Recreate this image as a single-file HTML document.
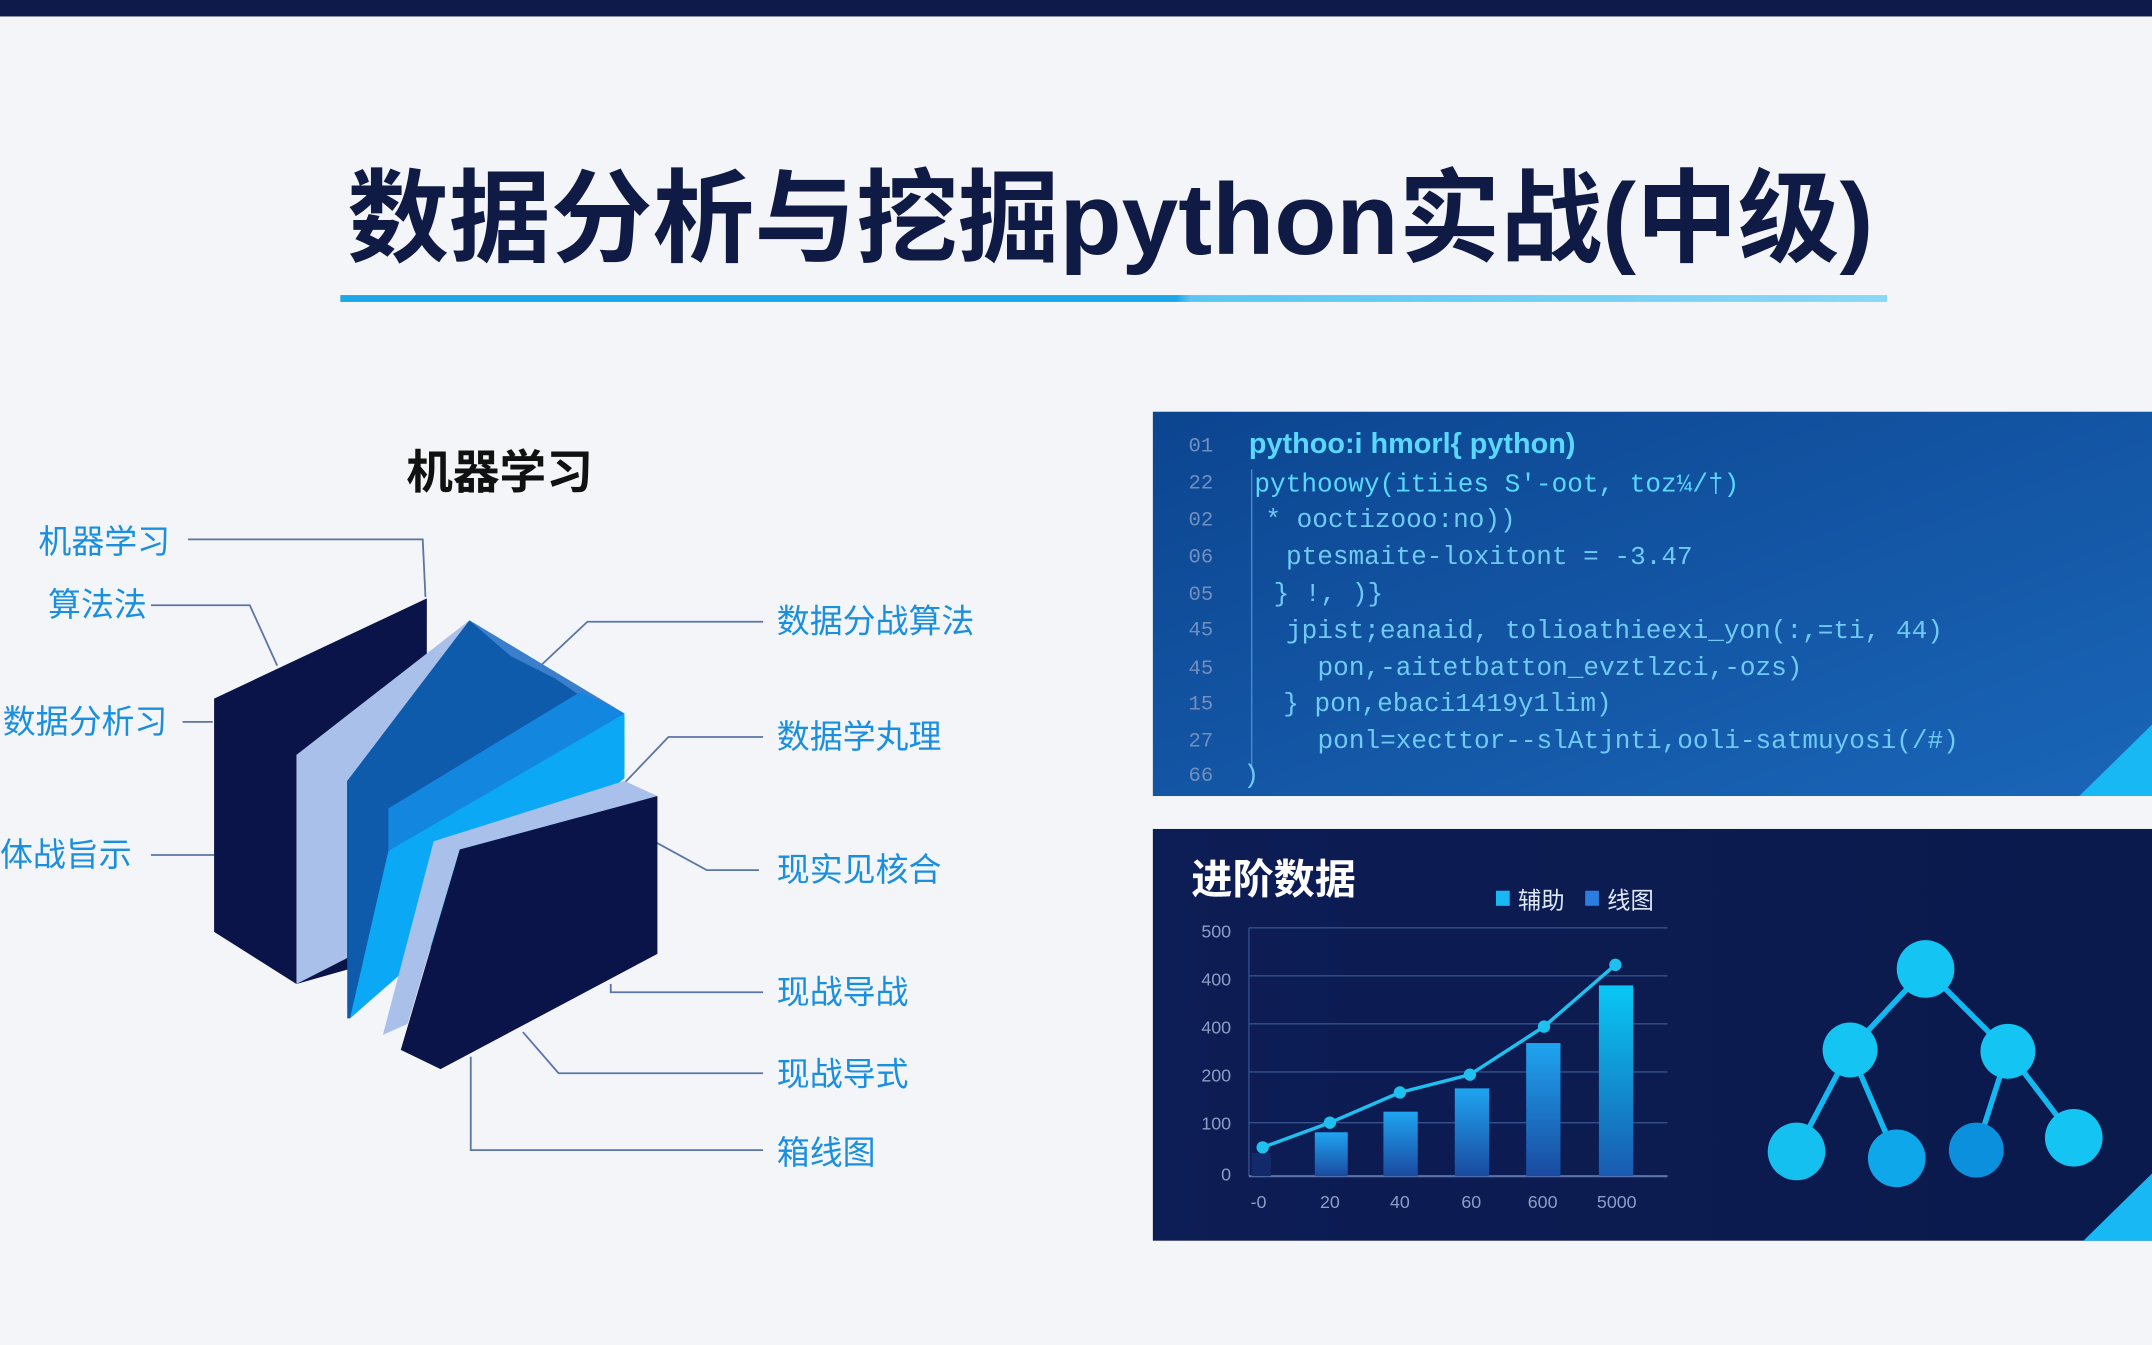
<!DOCTYPE html>
<html><head><meta charset="utf-8"><style>
html,body{margin:0;padding:0;background:#f3f5f8;}
svg{display:block}
</style></head><body>
<svg width="2152" height="1345" viewBox="0 0 1568 980" preserveAspectRatio="none" xmlns="http://www.w3.org/2000/svg">
<defs>
<linearGradient id="ul" x1="0" x2="1"><stop offset="0" stop-color="#1aa6e8"/><stop offset="0.54" stop-color="#1aa6e8"/><stop offset="0.55" stop-color="#5cc6f2"/><stop offset="1" stop-color="#8ad8f7"/></linearGradient>
<linearGradient id="code" x1="0" y1="0" x2="1" y2="1"><stop offset="0" stop-color="#0c4590"/><stop offset="1" stop-color="#1a66b8"/></linearGradient>
<linearGradient id="chart" x1="0" y1="0" x2="1" y2="0"><stop offset="0" stop-color="#0d1d55"/><stop offset="1" stop-color="#0a1a4c"/></linearGradient>
<linearGradient id="bar" x1="0" y1="0" x2="0" y2="1"><stop offset="0" stop-color="#1fa4f0"/><stop offset="1" stop-color="#1a4aa0"/></linearGradient>
<linearGradient id="bar2" x1="0" y1="0" x2="0" y2="1"><stop offset="0" stop-color="#08c8f5"/><stop offset="1" stop-color="#1a5ab0"/></linearGradient>
</defs>
<rect width="1568" height="980" fill="#f3f5f8"/>
<rect width="1568" height="12" fill="#0d1a4a"/>
<text x="253" y="185" font-family="Liberation Sans, Noto Sans CJK SC, sans-serif" font-weight="bold" font-size="74" fill="#0f1a45" textLength="1112" lengthAdjust="spacingAndGlyphs">数据分析与挖掘python实战(中级)</text>
<rect x="248" y="215" width="1127" height="5" fill="url(#ul)"/>

<text x="296" y="356" font-family="Liberation Sans, Noto Sans CJK SC, sans-serif" font-weight="bold" font-size="34" fill="#111">机器学习</text>

<g font-family="Liberation Sans, Noto Sans CJK SC, sans-serif" font-size="24" fill="#1a8fe0">
<text x="28" y="403">机器学习</text>
<text x="35" y="449">算法法</text>
<text x="2" y="534">数据分析习</text>
<text x="0" y="631">体战旨示</text>
<text x="566" y="461">数据分战算法</text>
<text x="566" y="545">数据学丸理</text>
<text x="566" y="642">现实见核合</text>
<text x="566" y="731">现战导战</text>
<text x="566" y="791">现战导式</text>
<text x="566" y="848">箱线图</text>
</g>
<g stroke="#5a74a8" stroke-width="1.3" fill="none">
<polyline points="137,393 308,393 310,435"/>
<polyline points="110,441 182,441 202,485"/>
<polyline points="133,526 155,526"/>
<polyline points="110,623 183,623"/>
<polyline points="556,453 428,453 395,484"/>
<polyline points="556,537 487,537 444,582"/>
<polyline points="553,634 515,634 471,610"/>
<polyline points="556,723 445,723 445,717"/>
<polyline points="556,782 407,782 381,752"/>
<polyline points="556,838 343,838 343,770"/>
</g>

<polygon points="156,509 311,436 311,690 216,717 156,679" fill="#0b1448"/>
<polygon points="216,550 342,452 372,472 253,569 253,698 216,717" fill="#a9c0ea"/>
<polygon points="253,569 342,452 455,520 455,560 255,742 253,742" fill="#0e5aab"/>
<polygon points="342,452 372,472 420,505 455,520 372,470" fill="#3a7fcc"/>
<polygon points="342,452 455,520 372,478" fill="#3a7fcc"/>
<polygon points="283,589 423,504 455,520 455,540 283,620" fill="#1386e0"/>
<polygon points="283,620 455,520 455,567 255,742" fill="#0aa8f5"/>
<polygon points="279,754 316,613 455,569 479,580 335,619 297,746" fill="#a9c0ea"/>
<polygon points="335,619 479,580 479,695 321,779 292,765" fill="#0b1448"/>

<rect x="840" y="300" width="728" height="280" fill="url(#code)"/>
<polygon points="1515,580 1568,528 1568,580" fill="#18b8f5"/>
<line x1="912" y1="342" x2="912" y2="560" stroke="#4a8ad0" stroke-width="1"/>
<g font-family="Liberation Mono, monospace" font-size="15" fill="#7090c0">
<text x="866" y="329">01</text><text x="866" y="356">22</text><text x="866" y="383">02</text><text x="866" y="410">06</text><text x="866" y="437">05</text><text x="866" y="463">45</text><text x="866" y="491">45</text><text x="866" y="517">15</text><text x="866" y="544">27</text><text x="866" y="569">66</text>
</g>
<g font-family="Liberation Mono, monospace" font-size="19" fill="#6fcaf5">
<text x="910" y="330" fill="#5ad8ff" font-weight="bold" font-family="Liberation Sans, sans-serif" font-size="21">pythoo:i hmorl{ python)</text>
<text x="914" y="358" fill="#5ad8ff">pythoowy(itiies S'-oot, toz¼/†)</text>
<text x="922" y="384">* ooctizooo:no))</text>
<text x="937" y="411">ptesmaite-loxitont = -3.47</text>
<text x="928" y="438">} !, )}</text>
<text x="937" y="465">jpist;eanaid, tolioathieexi_yon(:,=ti, 44)</text>
<text x="960" y="492">pon,-aitetbatton_evztlzci,-ozs)</text>
<text x="935" y="518">} pon,ebaci1419y1lim)</text>
<text x="960" y="545">ponl=xecttor--slAtjnti,ooli-satmuyosi(/#)</text>
<text x="906" y="570">)</text>
</g>

<rect x="840" y="604" width="728" height="300" fill="url(#chart)"/>
<polygon points="1518,904 1568,855 1568,904" fill="#18b8f5"/>
<text x="868" y="651" font-family="Liberation Sans, Noto Sans CJK SC, sans-serif" font-weight="bold" font-size="30" fill="#fff">进阶数据</text>
<rect x="1090" y="649" width="10" height="11" fill="#18b8f5"/>
<text x="1106" y="662" font-family="Liberation Sans, Noto Sans CJK SC, sans-serif" font-size="17" fill="#dfe8f5">辅助</text>
<rect x="1155" y="649" width="10" height="11" fill="#2a7ee0"/>
<text x="1171" y="662" font-family="Liberation Sans, Noto Sans CJK SC, sans-serif" font-size="17" fill="#dfe8f5">线图</text>
<g stroke="#34508a" stroke-width="1">
<line x1="910" y1="676" x2="1215" y2="676"/><line x1="910" y1="711" x2="1215" y2="711"/><line x1="910" y1="746" x2="1215" y2="746"/><line x1="910" y1="781" x2="1215" y2="781"/><line x1="910" y1="818" x2="1215" y2="818"/>
<line x1="910" y1="676" x2="910" y2="857"/>
</g>
<line x1="910" y1="857" x2="1215" y2="857" stroke="#5a74aa" stroke-width="1.5"/>
<g font-family="Liberation Sans, sans-serif" font-size="13" fill="#8a9ec6" text-anchor="end">
<text x="897" y="683">500</text><text x="897" y="718">400</text><text x="897" y="753">400</text><text x="897" y="788">200</text><text x="897" y="823">100</text><text x="897" y="860">0</text>
</g>
<g font-family="Liberation Sans, sans-serif" font-size="13" fill="#8a9ec6" text-anchor="middle">
<text x="917" y="880">-0</text><text x="969" y="880">20</text><text x="1020" y="880">40</text><text x="1072" y="880">60</text><text x="1124" y="880">600</text><text x="1178" y="880">5000</text>
</g>
<rect x="912" y="840" width="14" height="17" fill="#132a6a"/>
<rect x="958" y="825" width="24" height="32" fill="url(#bar)"/>
<rect x="1008" y="810" width="25" height="47" fill="url(#bar)"/>
<rect x="1060" y="793" width="25" height="64" fill="url(#bar)"/>
<rect x="1112" y="760" width="25" height="97" fill="url(#bar)"/>
<rect x="1165" y="718" width="25" height="139" fill="url(#bar2)"/>
<polyline points="920,836 969,818 1020,796 1071,783 1125,748 1177,703" fill="none" stroke="#1ec0f0" stroke-width="2.5"/>
<g fill="#1ec0f0"><circle cx="920" cy="836" r="4.5"/><circle cx="969" cy="818" r="4.5"/><circle cx="1020" cy="796" r="4.5"/><circle cx="1071" cy="783" r="4.5"/><circle cx="1125" cy="748" r="4.5"/><circle cx="1177" cy="703" r="4.5"/></g>

<g stroke="#14b8f0" stroke-width="4">
<line x1="1403" y1="706" x2="1348" y2="765"/><line x1="1403" y1="706" x2="1463" y2="766"/>
<line x1="1348" y1="765" x2="1309" y2="839"/><line x1="1348" y1="765" x2="1382" y2="844"/>
<line x1="1463" y1="766" x2="1440" y2="838"/><line x1="1463" y1="766" x2="1511" y2="829"/>
</g>
<circle cx="1403" cy="706" r="21" fill="#14c4f2"/>
<circle cx="1348" cy="765" r="20" fill="#14c4f2"/>
<circle cx="1463" cy="766" r="20" fill="#14c4f2"/>
<circle cx="1309" cy="839" r="21" fill="#14c0f0"/>
<circle cx="1382" cy="844" r="21" fill="#0ea8ea"/>
<circle cx="1440" cy="838" r="20" fill="#0a90dd"/>
<circle cx="1511" cy="829" r="21" fill="#14c4f2"/>
</svg>
</body></html>
